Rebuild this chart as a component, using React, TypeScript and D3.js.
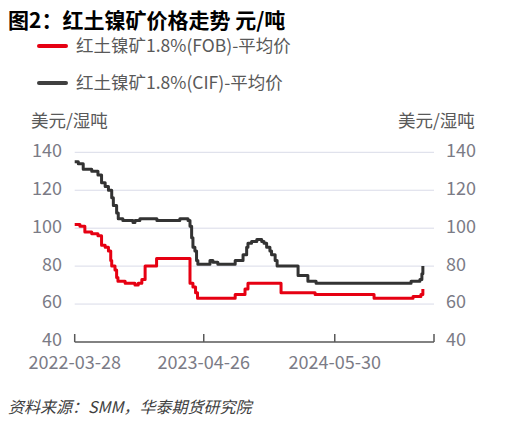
import * as d3 from 'd3';

const width = 518;
const height = 426;

// 红土镍矿1.8%(FOB)-平均价 (change points)
const fobDates = [
    '2022-03-28', '2022-04-13', '2022-04-28', '2022-05-19', '2022-06-07', '2022-06-18', '2022-06-29',
    '2022-07-09', '2022-07-16', '2022-07-19', '2022-07-29', '2022-08-03', '2022-08-07', '2022-08-29',
    '2022-09-28', '2022-10-08', '2022-10-19', '2022-10-29', '2022-12-03', '2023-03-09', '2023-03-15',
    '2023-03-24', '2023-04-01', '2023-04-07', '2023-07-31', '2023-08-30', '2023-09-08', '2023-12-18',
    '2024-03-31', '2024-09-27', '2025-01-24', '2025-02-17', '2025-02-23'
];
const fobValues = [
    102, 101, 98, 97, 96, 91, 90,
    88, 83, 80, 78, 74, 72, 71,
    70, 71, 73, 80, 84, 84, 71,
    69, 66, 63, 65, 68, 71, 66,
    65, 63, 64, 65, 68
];

// 红土镍矿1.8%(CIF)-平均价 (change points)
const cifDates = [
    '2022-03-28', '2022-04-08', '2022-04-23', '2022-05-19', '2022-06-07', '2022-06-18', '2022-06-29',
    '2022-07-09', '2022-07-19', '2022-07-24', '2022-08-03', '2022-08-08', '2022-08-22', '2022-09-22',
    '2022-09-28', '2022-10-13', '2022-12-04', '2023-02-12', '2023-03-09', '2023-03-15', '2023-03-20',
    '2023-03-24', '2023-03-30', '2023-04-04', '2023-04-08', '2023-05-15', '2023-05-24', '2023-06-08',
    '2023-07-31', '2023-08-24', '2023-09-04', '2023-09-08', '2023-09-19', '2023-10-05', '2023-10-20',
    '2023-10-27', '2023-11-04', '2023-11-14', '2023-11-19', '2023-11-30', '2023-12-06', '2024-02-08',
    '2024-03-09', '2024-04-03', '2025-01-18', '2025-02-14', '2025-02-20', '2025-02-23'
];
const cifValues = [
    135, 134, 131, 130, 128, 124, 122,
    120, 116, 112, 108, 105, 104, 103,
    104, 105, 104, 105, 104, 101, 95,
    90, 88, 83, 81, 83, 82, 81,
    83, 86, 90, 92, 93, 94, 93,
    92, 90, 88, 86, 83, 80, 75,
    72, 71, 72, 73, 76, 80
];

const yTicks = [40, 60, 80, 100, 120, 140];
const xTickDates = ['2022-03-28', '2023-04-26', '2024-05-30'];
const axisEnd = '2025-03-29';

const parse = d3.timeParse('%Y-%m-%d');
const font = '"Noto Sans CJK SC", "Noto Sans", sans-serif';
const labelColor = '#7b7b86';

export default function App() {
    const x = d3
        .scaleTime()
        .domain([parse(xTickDates[0]) as Date, parse(axisEnd) as Date])
        .range([74.7, 434]);
    const y = d3.scaleLinear().domain([40, 140]).range([342, 152.3]);

    const line = d3
        .line<[string, number]>()
        .x((d) => x(parse(d[0]) as Date))
        .y((d) => y(d[1]))
        .curve(d3.curveStepAfter);

    const fob = fobDates.map((d, i) => [d, fobValues[i]] as [string, number]);
    const cif = cifDates.map((d, i) => [d, cifValues[i]] as [string, number]);

    const [x0, x1] = x.range();
    const tickXs = [...xTickDates.map((d) => x(parse(d) as Date)), x1];

    return (
        <svg
            width={width}
            height={height}
            style={{ position: 'absolute', left: 0, top: 0, background: '#ffffff' }}
            fontFamily={font}
        >
            <text x={8} y={28} fontSize={21} fontWeight="bold" fill="#000000">
                图2：红土镍矿价格走势 元/吨
            </text>

            {/* legend */}
            <line x1={39} x2={66} y1={46} y2={46} stroke="#e60012" strokeWidth={4} strokeLinecap="round" />
            <text x={76} y={47} fontSize={17.5} fill="#595959" dominantBaseline="middle">
                红土镍矿1.8%(FOB)-平均价
            </text>
            <line x1={39} x2={66} y1={83} y2={83} stroke="#404040" strokeWidth={4} strokeLinecap="round" />
            <text x={76} y={84} fontSize={17.5} fill="#595959" dominantBaseline="middle">
                红土镍矿1.8%(CIF)-平均价
            </text>

            <text x={31} y={122} fontSize={17.5} fill="#595959" dominantBaseline="middle">
                美元/湿吨
            </text>
            <text x={398} y={122} fontSize={17.5} fill="#595959" dominantBaseline="middle">
                美元/湿吨
            </text>

            {/* grid */}
            {yTicks
                .filter((t) => t > 40)
                .map((t) => (
                    <line key={t} x1={x0} x2={x1} y1={y(t)} y2={y(t)} stroke="#d9dbe8" strokeWidth={1} />
                ))}

            {/* y labels both sides */}
            {yTicks.map((t) => (
                <g key={t} fontSize={18} fill={labelColor}>
                    <text x={62} y={y(t) - 0.5} textAnchor="end" dominantBaseline="middle">
                        {t}
                    </text>
                    <text x={446} y={y(t) - 0.5} textAnchor="start" dominantBaseline="middle">
                        {t}
                    </text>
                </g>
            ))}

            {/* x axis */}
            <line x1={x0} x2={x1} y1={y(40)} y2={y(40)} stroke="#595959" strokeWidth={1.5} />
            {tickXs.map((tx, i) => (
                <line key={i} x1={tx} x2={tx} y1={y(40)} y2={y(40) - 8} stroke="#595959" strokeWidth={1.5} />
            ))}
            {xTickDates.map((d) => (
                <text
                    key={d}
                    x={x(parse(d) as Date)}
                    y={364}
                    fontSize={18}
                    fill={labelColor}
                    textAnchor="middle"
                    dominantBaseline="middle"
                >
                    {d}
                </text>
            ))}

            {/* series */}
            <path d={line(cif) ?? ''} fill="none" stroke="#333333" strokeWidth={3} strokeLinejoin="round" />
            <path d={line(fob) ?? ''} fill="none" stroke="#e60012" strokeWidth={3} strokeLinejoin="round" />

            <text x={8} y={409} fontSize={16} fontStyle="italic" fill="#404040" dominantBaseline="middle">
                资料来源：SMM，华泰期货研究院
            </text>
        </svg>
    );
}
